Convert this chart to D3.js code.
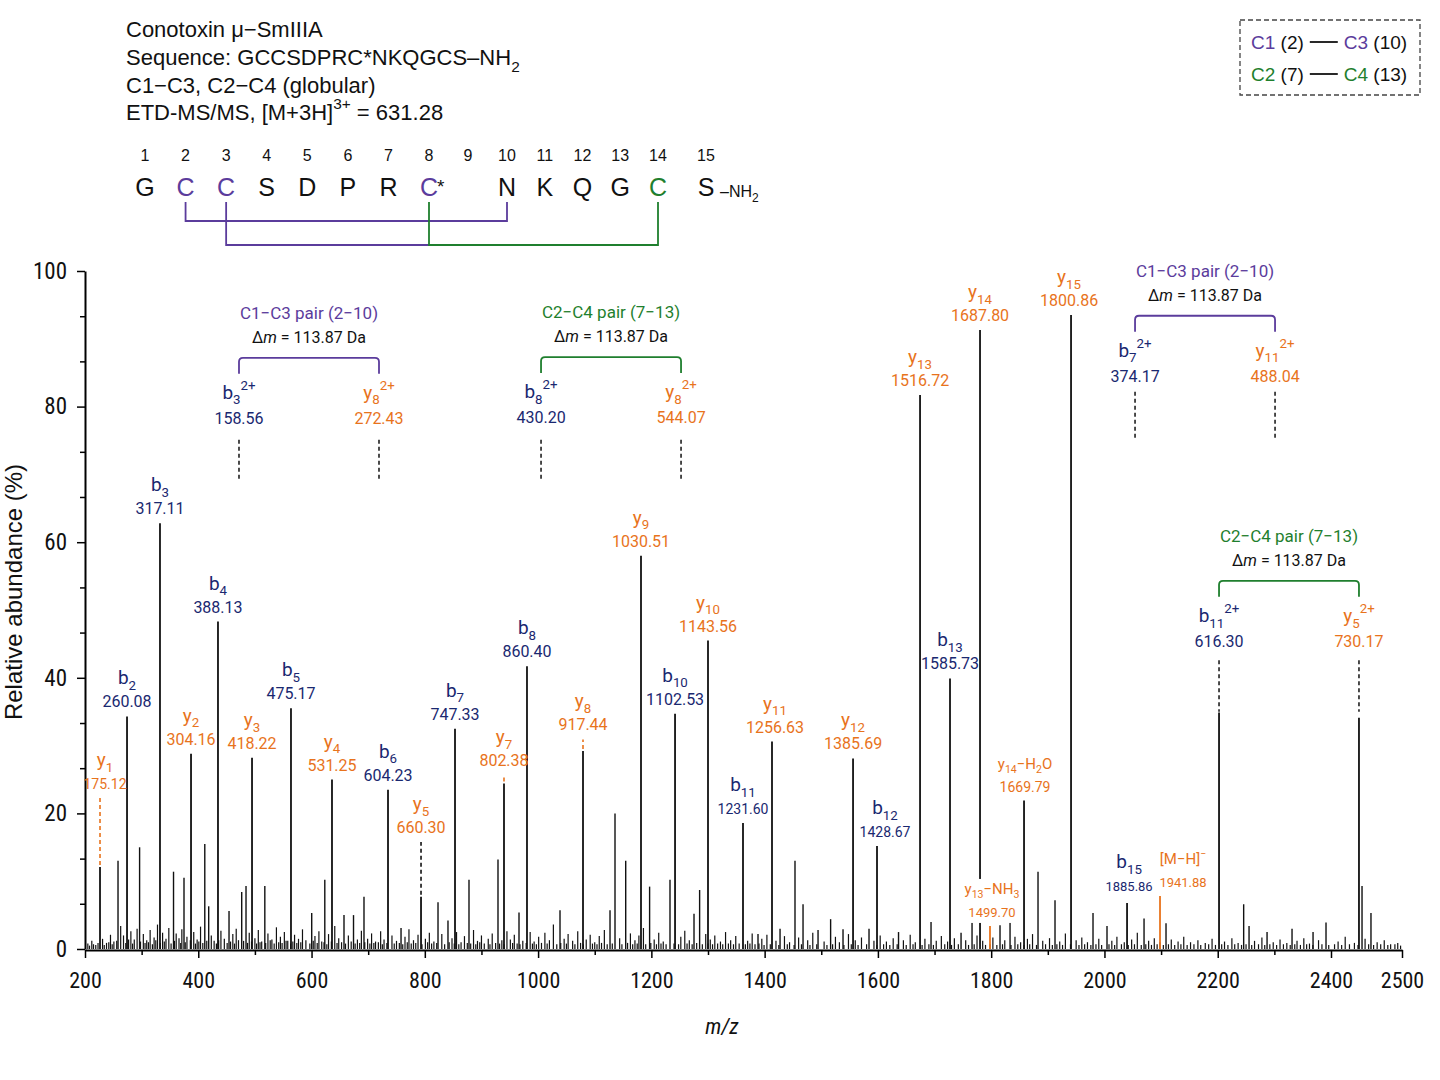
<!DOCTYPE html>
<html><head><meta charset="utf-8">
<script src="https://cdn.jsdelivr.net/npm/d3@7"></script>
<style>
body{margin:0;background:#fff}
svg{display:block}
</style>
</head><body>
<svg id="chart" width="1440" height="1080"></svg>
<script>
// ---------------- DATA ----------------
// Labelled fragment ions: name (markup: _ = subscript, ^ = superscript), m/z label, drawn position on the m/z axis, abundance (%)
const peakIons = ["y_1","b_2","y_2","b_3","b_4","y_3","b_5","y_4","b_6","y_5","b_7","y_7","b_8","y_8","y_9","b_10","y_10","b_11","y_11","y_12","b_12","y_13","b_13","y_13−NH_3","y_14","y_14−H_2O","y_15","b_15","[M−H]^−"];
const peakMzText = ["175.12","260.08","304.16","317.11","388.13","418.22","475.17","531.25","604.23","660.30","747.33","802.38","860.40","917.44","1030.51","1102.53","1143.56","1231.60","1256.63","1385.69","1428.67","1516.72","1585.73","1499.70","1687.80","1669.79","1800.86","1885.86","1941.88"];
const peakPos = [226.5,274.2,387.2,332.4,434.8,494.9,563.7,636.1,735.0,793.3,853.3,939.8,980.4,1079.3,1181.7,1241.8,1300.0,1361.8,1413.0,1556.1,1598.4,1674.4,1727.3,1797.9,1780.3,1858.0,1941.0,2039.9,2098.1];
const peakAbund = [12.1,34.3,28.8,62.8,48.3,28.2,35.5,25.0,23.5,7.7,32.5,24.4,41.7,29.2,58.0,34.7,45.5,18.6,30.6,28.1,15.2,81.7,39.9,3.4,91.3,21.9,93.5,6.8,7.8];
// dashed marker extension above some peaks (abundance of its top)
const peakMarkTop = [22.3,null,null,null,null,null,null,null,null,15.8,null,25.6,null,30.9,null,null,null,null,null,null,null,null,null,null,null,null,null,null,null];

// Unlabelled peaks [position, abundance]
const otherPeaks = [[258.3,13.0],[296.4,15.0],[356.3,11.4],[374.8,10.5],[411.5,15.5],[418.4,6.3],[454.3,5.6],[476.7,8.4],[484.3,9.3],[517.5,9.3],[600.3,5.3],[623.4,10.2],[657.3,5.0],[674.1,5.0],[692.6,7.7],[758.0,3.1],[823.3,6.9],[840.9,4.2],[878.0,10.2],[929.2,13.2],[966.3,5.4],[1038.7,5.7],[1127.0,5.7],[1135.8,20.0],[1154.7,13.0],[1196.9,9.2],[1232.9,10.2],[1275.3,5.2],[1285.2,8.7],[1388.3,2.2],[1427.2,3.0],[1453.6,13.0],[1467.8,6.6],[1494.3,2.8],[1516.5,4.4],[1538.4,2.9],[1584.3,3.0],[1636.4,2.5],[1693.8,4.0],[1746.8,2.4],[1766.2,10.0],[1815.6,3.5],[1833.3,7.2],[1882.7,11.4],[1912.7,7.2],[1979.8,5.3],[2004.5,3.4],[2069.9,4.5],[2108.7,3.8],[2202.3,34.9],[2245.8,6.6],[2255.3,3.4],[2287.1,2.5],[2331.2,3.0],[2368.3,2.5],[2391.2,3.9],[2439.4,34.1],[2443.7,9.3],[2456.3,5.3]];

// Baseline noise peaks [position, abundance]
const noisePeaks = [[205,0.8],[212,1.2],[219,0.6],[231,1.5],[238,0.9],[245,2.1],[251,1.1],[263,3.4],[268,2.0],[281,2.6],[287,1.4],[292,3.0],[303,2.2],[309,1.3],[315,2.8],[322,1.7],[328,3.6],[337,2.4],[343,1.5],[348,3.1],[361,2.3],[366,1.6],[371,2.9],[380,1.8],[392,2.5],[398,1.4],[404,3.3],[423,2.0],[428,1.2],[440,2.7],[446,1.5],[461,2.2],[467,3.0],[471,1.3],[490,2.4],[500,1.6],[506,2.8],[512,1.1],[523,2.3],[530,1.4],[538,3.2],[545,1.8],[552,2.5],[558,1.2],[570,2.1],[577,1.5],[584,2.9],[590,1.3],[606,1.9],[613,2.6],[618,1.1],[630,2.2],[641,3.4],[648,1.6],[665,2.0],[681,1.4],[688,2.7],[699,1.5],
[706,2.3],[713,1.1],[722,2.6],[728,1.4],[742,2.0],[750,1.2],[765,1.8],[772,2.9],[780,1.3],[788,2.1],[801,1.5],[808,2.4],[816,1.1],[830,2.2],[848,1.6],[856,2.5],[864,1.0],[870,1.9],[886,2.8],[893,1.2],[900,2.0],[912,1.5],[919,2.3],[936,1.3],[945,2.6],[951,1.4],[958,2.1],[973,1.2],[986,2.5],[993,1.1],[1001,1.8],[1012,2.4],[1020,1.3],[1027,3.6],[1046,1.5],[1053,2.2],[1061,1.2],[1070,2.6],[1085,1.4],[1092,2.1],[1100,1.0],[1108,1.9],[1117,2.8],[1144,1.6],[1163,2.3],[1171,1.3],[1178,2.0],[1186,3.1],[1205,1.4],[1213,2.4],[1221,1.1],[1252,1.8],[1259,2.7],[1267,1.3],[1296,2.2],[1304,1.4],[1312,2.0],[1322,1.1],[1331,2.5],[1340,1.3],[1349,1.9],[1370,1.2],[1378,2.3],[1395,1.5],
[1404,2.1],[1420,1.2],[1435,1.9],[1444,1.0],[1460,1.7],[1476,1.3],[1485,2.4],[1505,1.1],[1525,1.8],[1532,1.0],[1548,2.2],[1560,1.3],[1571,1.7],[1593,1.2],[1604,2.0],[1615,1.1],[1627,1.6],[1645,1.3],[1657,2.1],[1666,1.0],[1683,1.5],[1703,1.2],[1712,1.9],[1723,1.1],[1735,1.6],[1755,1.3],[1775,2.0],[1785,1.2],[1803,1.7],[1824,1.3],[1842,1.8],[1852,1.0],[1864,1.5],[1873,2.2],[1891,1.2],[1903,1.6],[1921,1.1],[1931,2.3],[1950,1.3],[1960,1.7],[1970,1.0],[1990,1.5],[2013,1.2],[2022,1.8],[2035,1.0],[2048,1.4],[2058,2.4],[2078,1.2],[2088,1.6],[2098,1.0],[2118,1.4],[2130,1.1],[2140,1.8],[2152,1.0],[2165,1.3],[2178,0.9],[2190,1.5],[2212,1.1],[2225,1.6],[2236,0.9],[2265,1.2],[2278,1.7],[2298,1.0],[2310,1.4],[2322,0.9],[2340,1.2],[2352,1.6],[2362,0.8],[2378,1.3],[2410,1.1],[2420,1.8],[2433,0.9],[2448,1.5],[2465,1.0],[2475,1.3],[2484,0.7],[2494,0.9]];
// Finest baseline fuzz [position, abundance]
const fuzzPeaks = [[208,0.5],[215,0.7],[223,0.9],[234,0.6],[242,1.0],[248,0.7],[256,1.2],[272,0.9],[277,1.4],[284,0.8],[298,1.1],[306,0.9],[312,1.0],[319,0.7],[325,1.3],[333,0.9],[340,1.1],[352,0.8],[358,1.2],[369,0.9],[377,1.0],[386,1.3],[395,0.8],[401,1.1],[408,0.9],[415,1.2],[432,0.8],[436,1.3],[451,0.9],[457,1.1],[464,0.8],[480,1.2],[487,0.9],[494,1.1],[503,0.8],[509,1.0],[519,0.9],[527,1.3],[534,0.8],[542,1.0],[548,0.9],[555,1.2],[563,0.8],[567,1.1],[574,0.9],[581,1.0],[597,0.8],[603,1.2],[610,0.9],[622,1.0],[627,0.7],[635,1.1],[645,0.9],[653,1.0],[660,0.8],[670,1.1],[677,0.8],[685,0.9],[694,1.0],[703,0.8],[710,0.9],[718,1.0],[725,0.7],[733,0.9],[746,0.8],[755,0.9],[761,0.7],[769,1.0],[776,0.8],[784,0.9],[795,0.7],[805,1.0],[812,0.8],[821,0.9],[835,0.7],[843,1.0],[852,0.8],[860,0.7],[875,0.9],[881,0.8],[890,0.7],[897,1.0],[905,0.8],[915,0.7],[925,0.9],[932,0.8],[940,0.7],[955,0.9],[963,0.8],[968,0.7],[979,0.9],[990,0.8],[997,0.7],[1006,0.9],[1016,0.8],[1033,0.7],[1040,0.9],[1050,0.8],[1065,0.7],[1075,0.9],[1080,0.7],[1096,0.8],[1104,0.7],[1112,0.9],[1122,0.7],[1131,0.8],[1148,0.7],[1158,0.9],[1167,0.7],[1175,0.8],[1190,0.7],[1199,0.9],[1209,0.7],[1217,0.8],[1226,0.7],[1240,0.8],[1248,0.7],[1263,0.8],[1272,0.7],[1280,0.9],[1290,0.7],[1300,0.8],[1308,0.7],[1317,0.8],[1326,0.7],[1336,0.8],[1345,0.7],[1355,0.8],[1366,0.7],[1374,0.8],[1383,0.7],[1390,0.8],[1399,0.6],[1410,0.7],[1425,0.6],[1440,0.7],[1452,0.6],[1465,0.7],[1480,0.6],[1492,0.7],[1510,0.6],[1520,0.7],[1540,0.6],[1553,0.7],[1565,0.6],[1580,0.7],[1598,0.6],[1610,0.7],[1621,0.6],[1634,0.7],[1650,0.6],[1662,0.7],[1678,0.6],[1690,0.7],[1698,0.6],[1718,0.7],[1730,0.6],[1742,0.7],[1760,0.6],[1770,0.7],[1790,0.6],[1798,0.7],[1810,0.6],[1820,0.7],[1835,0.6],[1847,0.7],[1858,0.6],[1868,0.7],[1880,0.6],[1896,0.7],[1908,0.6],[1916,0.7],[1926,0.6],[1940,0.7],[1955,0.6],[1965,0.7],[1976,0.6],[1985,0.7],[1995,0.6],[2008,0.7],[2018,0.6],[2030,0.7],[2042,0.6],[2053,0.7],[2065,0.6],[2073,0.7],[2083,0.6],[2093,0.7],[2104,0.6],[2113,0.7],[2124,0.6],[2135,0.7],[2146,0.6],[2158,0.7],[2170,0.6],[2184,0.7],[2196,0.6],[2207,0.7],[2218,0.6],[2230,0.7],[2242,0.6],[2250,0.7],[2260,0.6],[2272,0.7],[2283,0.6],[2292,0.7],[2304,0.6],[2316,0.7],[2328,0.6],[2336,0.7],[2346,0.6],[2357,0.7],[2368,0.6],[2384,0.7],[2396,0.6],[2405,0.7],[2415,0.6],[2426,0.7],[2438,0.6],[2453,0.7],[2460,0.6],[2470,0.7],[2480,0.6],[2490,0.7],[2498,0.5]];

// Disulfide pair annotations
const pairTitles = ["C1−C3 pair (2−10)","C2−C4 pair (7−13)","C1−C3 pair (2−10)","C2−C4 pair (7−13)"];
const pairDelta = ["113.87","113.87","113.87","113.87"];
const pairBIons = ["b_3^2+","b_8^2+","b_7^2+","b_11^2+"];
const pairBVals = ["158.56","430.20","374.17","616.30"];
const pairYIons = ["y_8^2+","y_8^2+","y_11^2+","y_5^2+"];
const pairYVals = ["272.43","544.07","488.04","730.17"];
const pairBPos = [471.9,1005.2,2054.0,2202.3];
const pairYPos = [719.1,1252.4,2301.2,2439.4];
const pairBond = ["C1C3","C2C4","C1C3","C2C4"];

// Axis ticks
const xTickValues = [200,400,600,800,1000,1200,1400,1600,1800,2000,2200,2400,2500];
const xMinorTicks = [300,500,700,900,1100,1300,1500,1700,1900,2100,2300];
const yTickValues = [0,20,40,60,80,100];
const yMinorTicks = [6.67,13.33,26.67,33.33,46.67,53.33,66.67,73.33,86.67,93.33];

// Sequence
const seqNumbers = [1,2,3,4,5,6,7,8,9,10,11,12,13,14,15];
const seqResidues = ["G","C","C","S","D","P","R","C","","N","K","Q","G","C","S"];
const seqBondFrom = [2,3,8];
const seqBondTo = [10,8,14];
const headerLines = ["Conotoxin μ−SmIIIA","Sequence: GCCSDPRC*NKQGCS–NH_2","C1−C3, C2−C4 (globular)","ETD-MS/MS, [M+3H]^3+ = 631.28"];

// ---------------- STYLE / LAYOUT ----------------
const NAVY = "#1a2870", ORANGE = "#e8731c", PURPLE = "#5b3c9c", GREEN = "#1f7f2e";
const F_HEAD = "'Liberation Sans', Arial, sans-serif";
const F_LAB = "Roboto, 'Liberation Sans', sans-serif";
const F_TICK = "'Liberation Sans Narrow', 'Arial Narrow', 'Roboto Condensed', Roboto, sans-serif";

const svg = d3.select("#chart");
const x = d3.scaleLinear().domain([200, 2400, 2500]).range([85, 1331, 1402]);
const y = d3.scaleLinear().domain([0, 100]).range([949, 271]);

function richText(sel, str, size, opts) {
  opts = opts || {};
  const toks = []; let i = 0, buf = "";
  while (i < str.length) {
    const ch = str[i];
    if (ch === "_") {
      if (buf) { toks.push({t: buf, k: "n"}); buf = ""; }
      i++; let s = "";
      while (i < str.length && /[0-9]/.test(str[i])) { s += str[i]; i++; }
      toks.push({t: s, k: "sub"});
    } else if (ch === "^") {
      if (buf) { toks.push({t: buf, k: "n"}); buf = ""; }
      i++; let s = "";
      while (i < str.length && str[i] !== " " && str[i] !== "_") { s += str[i]; i++; }
      toks.push({t: s, k: "sup"});
    } else { buf += ch; i++; }
  }
  if (buf) toks.push({t: buf, k: "n"});
  let cur = 0;
  const subR = opts.subR || 0.68;
  toks.forEach(tk => {
    const target = tk.k === "sub" ? 0.3 * size : tk.k === "sup" ? -0.48 * size : 0;
    sel.append("tspan").attr("dy", target - cur)
      .attr("font-size", tk.k === "n" ? size : size * subR).text(tk.t);
    cur = target;
  });
}

// ---------------- HEADER ----------------
const head = svg.append("g").attr("font-family", F_HEAD).attr("fill", "#111");
[37, 65, 93, 120].forEach((by, i) => {
  const t = head.append("text").attr("x", 126).attr("y", by).attr("font-size", 22);
  richText(t, headerLines[i], 22, {subR: 0.7});
});

// ---------------- SEQUENCE ----------------
const sx = d3.scaleLinear().domain([1, 8, 10, 14, 15]).range([145, 429, 507, 658, 706]);
const seqG = svg.append("g").attr("font-family", F_HEAD);
seqG.selectAll("text.num").data(seqNumbers).join("text").attr("class", "num")
  .attr("x", d => sx(d)).attr("y", 161).attr("text-anchor", "middle")
  .attr("font-size", 16).attr("fill", "#111").text(d => d);
const resColor = i => (i === 2 || i === 3 || i === 8) ? PURPLE : (i === 14 ? GREEN : "#111");
seqG.selectAll("text.res").data(seqResidues.map((r, i) => ({r, n: seqNumbers[i]})).filter(d => d.r))
  .join("text").attr("class", "res")
  .attr("x", d => sx(d.n)).attr("y", 196).attr("text-anchor", "middle")
  .attr("font-size", 25).attr("fill", d => resColor(d.n)).text(d => d.r);
seqG.append("text").attr("x", sx(8) + 8).attr("y", 193).attr("font-size", 19).attr("fill", "#111").text("*");
const nh = seqG.append("text").attr("x", sx(15) + 14).attr("y", 197).attr("font-size", 16).attr("fill", "#111");
richText(nh, "–NH_2", 16, {subR: 0.75});
const bondLevel = [221, 245, 245];
const bondColor = [PURPLE, PURPLE, GREEN];
seqBondFrom.forEach((a, i) => {
  const b = seqBondTo[i];
  const p = d3.path();
  p.moveTo(sx(a), 202); p.lineTo(sx(a), bondLevel[i]); p.lineTo(sx(b), bondLevel[i]);
  if (i !== 1) p.lineTo(sx(b), 202);
  seqG.append("path").attr("d", p.toString()).attr("fill", "none")
    .attr("stroke", bondColor[i]).attr("stroke-width", 1.8);
});

// ---------------- LEGEND ----------------
const leg = svg.append("g").attr("font-family", F_HEAD).attr("font-size", 19);
leg.append("rect").attr("x", 1240).attr("y", 20).attr("width", 180).attr("height", 75)
  .attr("fill", "none").attr("stroke", "#444").attr("stroke-width", 1.3).attr("stroke-dasharray", "5,3");
[[PURPLE, "C1", " (2)", "C3", " (10)", 49], [GREEN, "C2", " (7)", "C4", " (13)", 81]].forEach(r => {
  const t1 = leg.append("text").attr("x", 1251).attr("y", r[5]);
  t1.append("tspan").attr("fill", r[0]).text(r[1]);
  t1.append("tspan").attr("fill", "#111").text(r[2]);
  const w = t1.node().getComputedTextLength();
  leg.append("line").attr("x1", 1251 + w + 6).attr("x2", 1251 + w + 34)
    .attr("y1", r[5] - 7).attr("y2", r[5] - 7).attr("stroke", "#111").attr("stroke-width", 1.8);
  const t2 = leg.append("text").attr("x", 1251 + w + 40).attr("y", r[5]);
  t2.append("tspan").attr("fill", r[0]).text(r[3]);
  t2.append("tspan").attr("fill", "#111").text(r[4]);
});

// ---------------- PEAKS (drawn before axes so axis line sits on top) ----------------
const peaksG = svg.append("g");
peaksG.selectAll("line.fuzz").data(fuzzPeaks).join("line").attr("class", "fuzz")
  .attr("x1", d => x(d[0])).attr("x2", d => x(d[0])).attr("y1", y(0)).attr("y2", d => y(d[1]))
  .attr("stroke", "#111").attr("stroke-width", 1.2);
peaksG.selectAll("line.noise").data(noisePeaks).join("line").attr("class", "noise")
  .attr("x1", d => x(d[0])).attr("x2", d => x(d[0])).attr("y1", y(0)).attr("y2", d => y(d[1]))
  .attr("stroke", "#111").attr("stroke-width", 1.2);
peaksG.selectAll("line.other").data(otherPeaks).join("line").attr("class", "other")
  .attr("x1", d => x(d[0])).attr("x2", d => x(d[0])).attr("y1", y(0)).attr("y2", d => y(d[1]))
  .attr("stroke", "#111").attr("stroke-width", d => d[1] > 20 ? 1.8 : 1.4);

const orangePeak = new Set(["y_13−NH_3", "[M−H]^−"]);
const markColor = {"y_1": ORANGE, "y_5": "#111", "y_7": ORANGE, "y_8": ORANGE};
const peaks = peakIons.map((n, i) => ({n, mz: peakMzText[i], pos: peakPos[i], h: peakAbund[i], mark: peakMarkTop[i]}));
peaksG.selectAll("line.main").data(peaks).join("line").attr("class", "main")
  .attr("x1", d => x(d.pos)).attr("x2", d => x(d.pos)).attr("y1", y(0)).attr("y2", d => y(d.h))
  .attr("stroke", d => orangePeak.has(d.n) ? ORANGE : "#111").attr("stroke-width", 1.8);
peaksG.selectAll("line.mark").data(peaks.filter(d => d.mark != null)).join("line").attr("class", "mark")
  .attr("x1", d => x(d.pos)).attr("x2", d => x(d.pos)).attr("y1", d => y(d.h) - 2).attr("y2", d => y(d.mark))
  .attr("stroke", d => markColor[d.n]).attr("stroke-width", 1.6).attr("stroke-dasharray", "4,3");

// ---------------- AXES ----------------
const xAxis = svg.append("g").attr("transform", `translate(0,${y(0) + 1})`)
  .call(d3.axisBottom(x).tickValues(xTickValues).tickSize(8).tickSizeOuter(0).tickPadding(14).tickFormat(d3.format("d")));
svg.append("g").attr("transform", `translate(0,${y(0) + 1})`)
  .call(d3.axisBottom(x).tickValues(xMinorTicks).tickSize(5).tickFormat(""))
  .call(g => g.select(".domain").remove());
xAxis.select(".domain").attr("stroke-width", 2.2);
xAxis.selectAll("text").attr("font-family", F_TICK).attr("font-size", 22).attr("fill", "#111");

const yAxis = svg.append("g").attr("transform", `translate(${x(200)},0)`)
  .call(d3.axisLeft(y).tickValues(yTickValues).tickSize(8).tickSizeOuter(0).tickPadding(10));
svg.append("g").attr("transform", `translate(${x(200)},0)`)
  .call(d3.axisLeft(y).tickValues(yMinorTicks).tickSize(5).tickFormat(""))
  .call(g => g.select(".domain").remove());
yAxis.select(".domain").attr("stroke-width", 2);
yAxis.selectAll("text").attr("font-family", F_TICK).attr("font-size", 23).attr("fill", "#111");
svg.selectAll(".tick line").attr("stroke-width", 1.5);

svg.append("text").attr("transform", "translate(22,592) rotate(-90)").attr("text-anchor", "middle")
  .attr("font-family", F_HEAD).attr("font-size", 24).attr("fill", "#111").text("Relative abundance (%)");
svg.append("text").attr("x", 722).attr("y", 1034).attr("text-anchor", "middle")
  .attr("font-family", F_TICK).attr("font-size", 22).attr("font-style", "italic").attr("fill", "#111").text("m/z");

// peak labels
const labelDx = {"y_1": 5, "b_12": 8, "b_15": 2, "[M−H]^−": 23, "y_13−NH_3": 2, "y_15": -2, "y_11": 3, "y_14−H_2O": 1};
const valSize = {"y_1": 14, "b_11": 14, "b_12": 14, "y_13−NH_3": 13, "b_15": 13, "[M−H]^−": 13, "y_14−H_2O": 14};
const smallName = new Set(["y_13−NH_3", "[M−H]^−", "y_14−H_2O"]);
const labG = svg.append("g").attr("font-family", F_LAB);
peaks.forEach(d => {
  const top = y(d.mark != null ? Math.max(d.mark, d.h) : d.h);
  const cx = x(d.pos) + (labelDx[d.n] || 0);
  const col = d.n[0] === "b" ? NAVY : ORANGE;
  const g = labG.append("g");
  const vs = valSize[d.n] || 16;
  const ns = smallName.has(d.n) ? 15 : 19;
  const extra = d.n === "b_15" ? 3 : 0;
  g.append("text").attr("x", cx).attr("y", top - 9 - extra).attr("text-anchor", "middle")
    .attr("font-size", vs).attr("fill", col).text(d.mz);
  const nt = g.append("text").attr("x", cx).attr("y", top - 32 - extra).attr("text-anchor", "middle")
    .attr("font-size", ns).attr("fill", col);
  richText(nt, d.n, ns, {subR: 0.7});
  if (d.n === "y_13−NH_3") {
    const bb = g.node().getBBox();
    g.insert("rect", ":first-child").attr("x", bb.x - 2).attr("y", bb.y - 1)
      .attr("width", bb.width + 4).attr("height", bb.height + 4).attr("fill", "#fff");
  }
});

// ---------------- PAIR ANNOTATIONS ----------------
const pairLayout = [
  {bracket: 87.2, dashTop: 75.1, dashBot: 68.9},
  {bracket: 87.3, dashTop: 75.1, dashBot: 68.9},
  {bracket: 93.4, dashTop: 82.2, dashBot: 75.4},
  {bracket: 54.3, dashTop: 42.6, dashBot: 35.0}
];
const pairG = svg.append("g").attr("font-family", F_LAB);
pairTitles.forEach((title, i) => {
  const L = pairLayout[i];
  const xb = x(pairBPos[i]), xy = x(pairYPos[i]), yb = y(L.bracket);
  const col = pairBond[i] === "C1C3" ? PURPLE : GREEN;
  const p = d3.path();
  p.moveTo(xb, yb + 16); p.lineTo(xb, yb + 4); p.quadraticCurveTo(xb, yb, xb + 4, yb);
  p.lineTo(xy - 4, yb); p.quadraticCurveTo(xy, yb, xy, yb + 4); p.lineTo(xy, yb + 16);
  pairG.append("path").attr("d", p.toString()).attr("fill", "none").attr("stroke", col).attr("stroke-width", 1.8);
  const cx = (xb + xy) / 2;
  pairG.append("text").attr("x", cx).attr("y", yb - 39).attr("text-anchor", "middle")
    .attr("font-size", 17).attr("fill", col).text(title);
  const dt = pairG.append("text").attr("x", cx).attr("y", yb - 15).attr("text-anchor", "middle")
    .attr("font-size", 16).attr("fill", "#111");
  dt.append("tspan").text("Δ");
  dt.append("tspan").attr("font-style", "italic").text("m");
  dt.append("tspan").text(" = " + pairDelta[i] + " Da");
  [[xb, pairBIons[i], pairBVals[i], NAVY], [xy, pairYIons[i], pairYVals[i], ORANGE]].forEach(s => {
    const nt = pairG.append("text").attr("x", s[0]).attr("y", yb + 41).attr("text-anchor", "middle")
      .attr("font-size", 19).attr("fill", s[3]);
    richText(nt, s[1], 19, {subR: 0.7});
    pairG.append("text").attr("x", s[0]).attr("y", yb + 66).attr("text-anchor", "middle")
      .attr("font-size", 16).attr("fill", s[3]).text(s[2]);
    pairG.append("line").attr("x1", s[0]).attr("x2", s[0]).attr("y1", y(L.dashTop)).attr("y2", y(L.dashBot))
      .attr("stroke", "#111").attr("stroke-width", 1.5).attr("stroke-dasharray", "4,3");
  });
});
</script>
</body></html>
